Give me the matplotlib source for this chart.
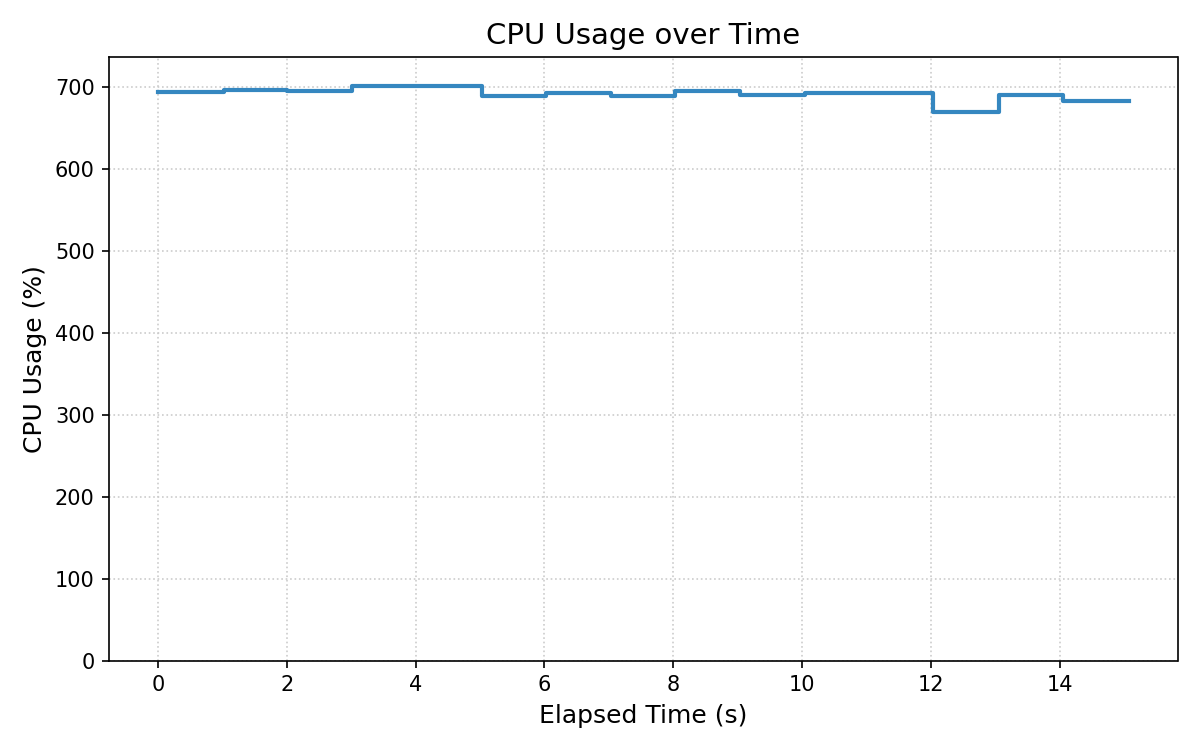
import matplotlib
matplotlib.use("Agg")
import matplotlib.pyplot as plt

time_s = [0.0, 1.02, 2.01, 3.02, 4.03, 5.03, 6.03, 7.04, 8.02, 9.04, 10.04, 11.04, 12.03, 13.05, 14.04, 15.07]
cpu_usage = [693, 696, 694, 701, 701, 689, 692, 688, 694, 690, 692, 692, 669, 690, 683, 683]

fig, ax = plt.subplots(figsize=(8, 5), dpi=150)
ax.step(time_s, cpu_usage, where='post', color='#3587c0', linewidth=2)
ax.set_ylim(0, max(cpu_usage) * 1.05)
ax.set_title("CPU Usage over Time", fontsize=14)
ax.set_xlabel("Elapsed Time (s)", fontsize=12)
ax.set_ylabel("CPU Usage (%)", fontsize=12)
ax.grid(True, linestyle=':', color='#cccccc', linewidth=0.8)
fig.tight_layout()
fig.savefig("out.png", dpi=150)
